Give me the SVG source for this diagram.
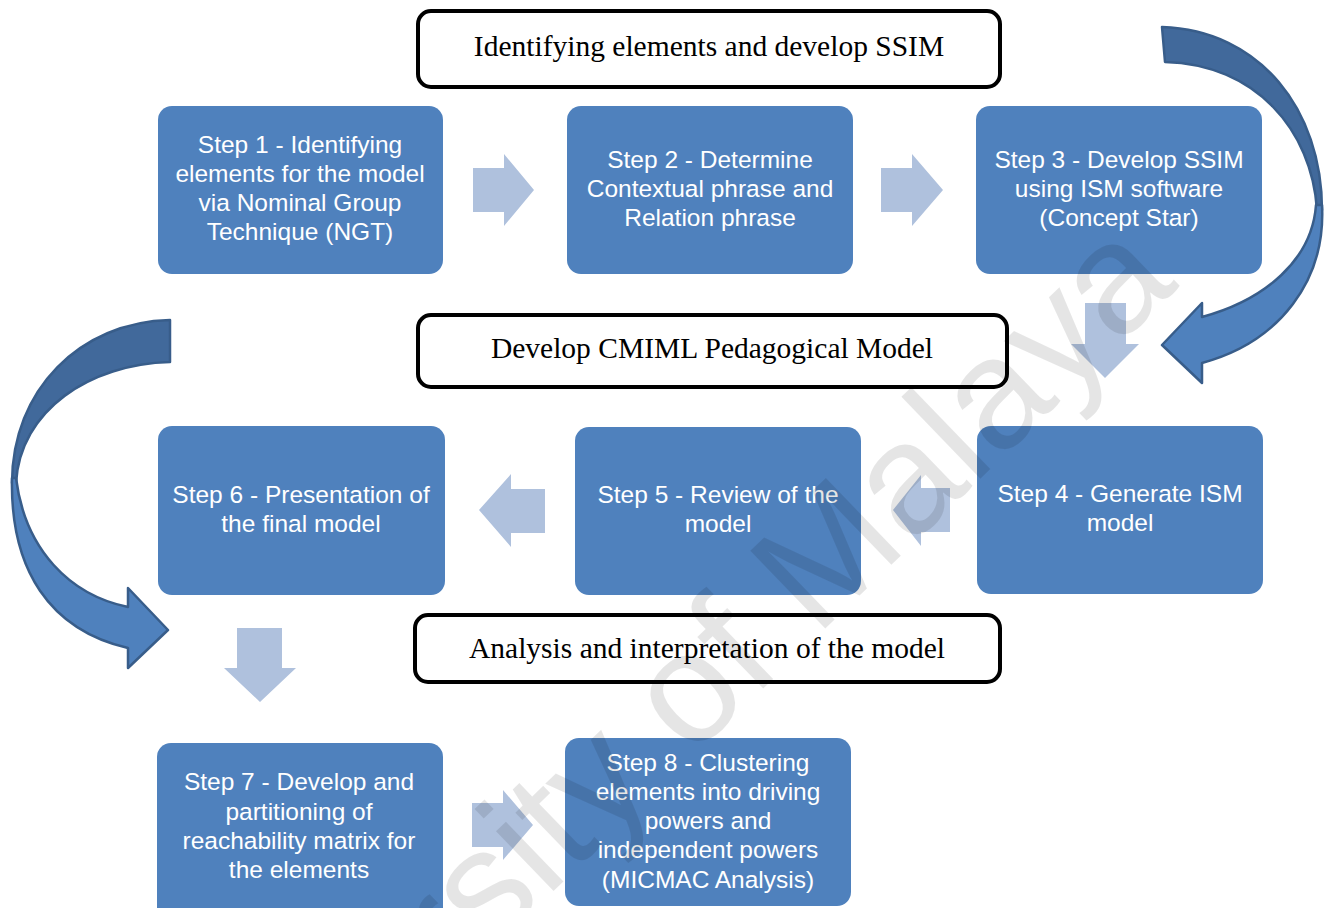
<svg xmlns="http://www.w3.org/2000/svg" width="1327" height="908" viewBox="0 0 1327 908">
  <style>
    .step { fill: #4F81BD; }
    .step-text { font-family: "Liberation Sans", Arial, sans-serif; font-size: 24.5px; fill: #FFFFFF; text-anchor: middle; }
    .phase { fill: #FFFFFF; stroke: #000000; stroke-width: 4; }
    .phase-text { font-family: "Liberation Serif", "Times New Roman", serif; font-size: 29.5px; fill: #000000; text-anchor: middle; }
    .flow { fill: #AFC1DD; }
    .curve-back { fill: #41699B; stroke: #385D8A; stroke-width: 2.5; stroke-linejoin: round; }
    .curve-front { fill: #4F81BD; stroke: #385D8A; stroke-width: 2.5; stroke-linejoin: round; }
    .watermark { font-family: "Liberation Sans", Arial, sans-serif; font-size: 157px; fill: #000000; fill-opacity: 0.1; text-anchor: end; }
  </style>
  <rect width="1327" height="908" fill="#FFFFFF"/>

  <!-- phase headings -->
  <g id="phase-1">
    <rect class="phase" x="418" y="11" width="582" height="76" rx="13"/>
    <text class="phase-text" x="709" y="56">Identifying elements and develop SSIM</text>
  </g>
  <g id="phase-2">
    <rect class="phase" x="418" y="315" width="589" height="72" rx="13"/>
    <text class="phase-text" x="712" y="358">Develop CMIML Pedagogical Model</text>
  </g>
  <g id="phase-3">
    <rect class="phase" x="415" y="615" width="585" height="67" rx="13"/>
    <text class="phase-text" x="707" y="658">Analysis and interpretation of the model</text>
  </g>

  <!-- process steps -->
  <g id="step-1">
    <rect class="step" x="158" y="106" width="285" height="168" rx="14"/>
    <text class="step-text" x="300" y="153">Step 1 - Identifying</text>
    <text class="step-text" x="300" y="182">elements for the model</text>
    <text class="step-text" x="300" y="211">via Nominal Group</text>
    <text class="step-text" x="300" y="240">Technique (NGT)</text>
  </g>
  <g id="step-2">
    <rect class="step" x="567" y="106" width="286" height="168" rx="14"/>
    <text class="step-text" x="710" y="168">Step 2 - Determine</text>
    <text class="step-text" x="710" y="197">Contextual  phrase and</text>
    <text class="step-text" x="710" y="226">Relation phrase</text>
  </g>
  <g id="step-3">
    <rect class="step" x="976" y="106" width="286" height="168" rx="14"/>
    <text class="step-text" x="1119" y="168">Step 3 - Develop SSIM</text>
    <text class="step-text" x="1119" y="197">using ISM software</text>
    <text class="step-text" x="1119" y="226">(Concept Star)</text>
  </g>
  <g id="step-4">
    <rect class="step" x="977" y="426" width="286" height="168" rx="14"/>
    <text class="step-text" x="1120" y="502">Step 4 - Generate ISM</text>
    <text class="step-text" x="1120" y="531">model</text>
  </g>
  <g id="step-5">
    <rect class="step" x="575" y="427" width="286" height="168" rx="14"/>
    <text class="step-text" x="718" y="503">Step 5 - Review of the</text>
    <text class="step-text" x="718" y="532">model</text>
  </g>
  <g id="step-6">
    <rect class="step" x="158" y="426" width="287" height="169" rx="14"/>
    <text class="step-text" x="301" y="503">Step 6 - Presentation of</text>
    <text class="step-text" x="301" y="532">the final model</text>
  </g>
  <g id="step-7">
    <rect class="step" x="157" y="743" width="286" height="180" rx="14"/>
    <text class="step-text" x="299" y="790">Step 7 - Develop and</text>
    <text class="step-text" x="299" y="820">partitioning of</text>
    <text class="step-text" x="299" y="849">reachability matrix for</text>
    <text class="step-text" x="299" y="878">the elements</text>
  </g>
  <g id="step-8">
    <rect class="step" x="565" y="738" width="286" height="168" rx="14"/>
    <text class="step-text" x="708" y="771">Step 8 - Clustering</text>
    <text class="step-text" x="708" y="800">elements into driving</text>
    <text class="step-text" x="708" y="829">powers and</text>
    <text class="step-text" x="708" y="858">independent powers</text>
    <text class="step-text" x="708" y="888">(MICMAC Analysis)</text>
  </g>

  <!-- connectors: block arrows between steps and curved arrows between rows -->
  <g id="connectors">
    <polygon class="flow" points="473,168 504,168 504,154 534,190 504,226 504,212 473,212"/>
    <polygon class="flow" points="881,168 912,168 912,154 943,190 912,226 912,212 881,212"/>
    <polygon class="flow" points="1085,303 1126,303 1126,344 1139,344 1105,378 1071,344 1085,344"/>
    <polygon class="flow" points="950,488 921,488 921,475 893,510 921,546 921,532 950,532"/>
    <polygon class="flow" points="545,489 511,489 511,474 479,510 511,547 511,533 545,533"/>
    <polygon class="flow" points="237,628 282,628 282,668 296,668 260,702 224,668 237,668"/>
    <polygon class="flow" points="472,803 503,803 503,790 533,825 503,860 503,847 472,847"/>

    <g id="curve-right">
      <path class="curve-back" d="M1162,27 C1260,30 1322,110 1322,210 L1317,210 C1312,130 1255,64 1165,62 Z"/>
      <path class="curve-front" d="M1322,205 C1326,280 1280,342 1202,363 L1202,383 L1162,345 L1202,303 L1202,317 C1265,300 1312,260 1316,205 Z"/>
    </g>
    <g id="curve-left">
      <path class="curve-back" d="M170,320 C80,322 12,390 12,483 L16,483 C20,410 90,364 170,362 Z"/>
      <path class="curve-front" d="M12,478 C10,570 50,630 128,648 L128,668 L168,630 L128,588 L128,607 C70,595 25,550 16,478 Z"/>
    </g>
  </g>

  <!-- repository watermark -->
  <text class="watermark" transform="translate(1180,286) rotate(-44)">University of Malaya</text>
</svg>
